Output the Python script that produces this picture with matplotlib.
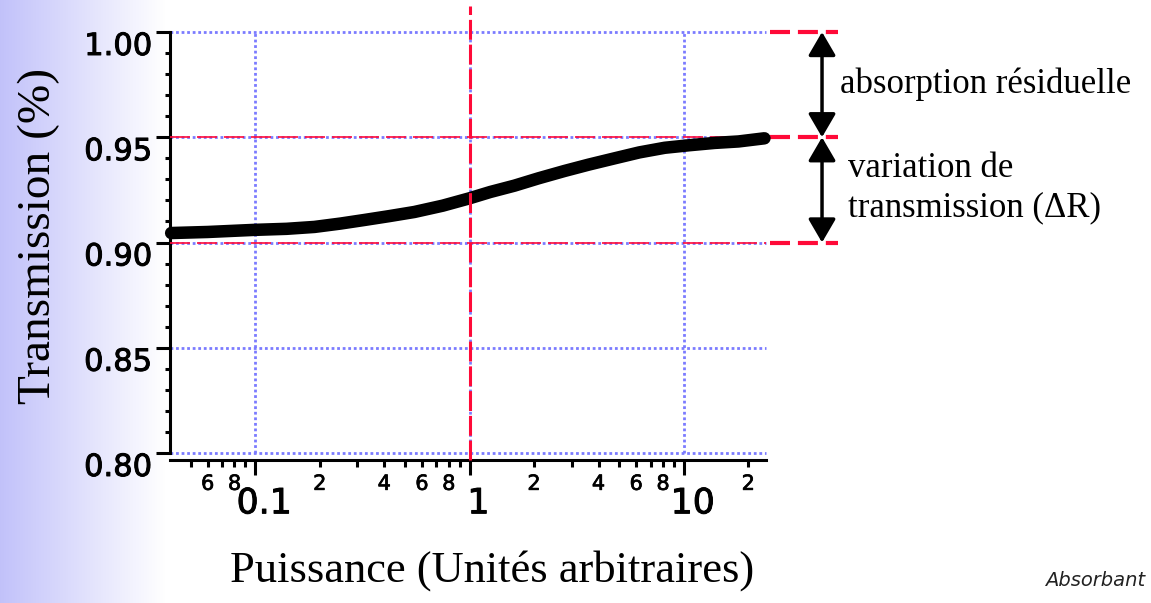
import matplotlib.pyplot as plt
import matplotlib.transforms as mtransforms
import matplotlib.patheffects as pe
from matplotlib.ticker import FixedLocator, MultipleLocator, FuncFormatter
import numpy as np

# Transmission d'un absorbant saturable en fonction de la puissance incidente
puissance = [0.0405, 0.06, 0.099, 0.14, 0.189, 0.25, 0.323, 0.42, 0.553, 0.75, 1.0,
             1.25, 1.62, 2.1, 2.78, 3.6, 4.76, 6.2, 8.15, 10.6, 13.9, 18.0, 23.8]
transmission = [0.9045, 0.905, 0.906, 0.9065, 0.9074, 0.909, 0.9107, 0.9125, 0.9145, 0.9175, 0.921,
                0.924, 0.927, 0.9305, 0.934, 0.937, 0.940, 0.9428, 0.945, 0.9462, 0.9473, 0.948, 0.9495]

niveaux = [1.00, 0.95, 0.90]          # T max, T saturee, T non saturee
y_ticks = [0.80, 0.85, 0.90, 0.95, 1.00]
x_major = [0.1, 1, 10]
x_lim = (0.04, 24.2)

ROUGE = '#ff0a38'
BLEU = '#7b7bff'

fig = plt.figure(figsize=(11.51, 6.03), dpi=100)

# bandeau degrade a gauche
bg = fig.add_axes([0, 0, 1, 1], zorder=-10)
bg.axis('off')
w = 1151
t = np.clip(np.arange(w) / 165.0, 0, 1)[None, :, None]
c0 = np.array([0.76, 0.76, 0.98])
grad = c0 * (1 - t) + np.ones(3) * t
bg.imshow(grad, aspect='auto', extent=[0, 1, 0, 1])
bg.set_xlim(0, 1)
bg.set_ylim(0, 1)

ax = fig.add_axes([170 / 1151, 1 - 453 / 603, 596 / 1151, 421 / 603])
ax.set_facecolor('none')
ax.set_xscale('log')
ax.set_xlim(*x_lim)
ax.set_ylim(0.80, 1.00)

for s in ['top', 'right']:
    ax.spines[s].set_visible(False)
ax.spines['left'].set_linewidth(2.2)
ax.spines['bottom'].set_linewidth(2.2)
ax.spines['bottom'].set_position(('outward', 5))

# ticks
ax.yaxis.set_major_locator(FixedLocator(y_ticks))
ax.yaxis.set_minor_locator(MultipleLocator(0.01))
ax.yaxis.set_major_formatter(FuncFormatter(lambda v, p: f'{v:.2f}'))
ax.xaxis.set_major_locator(FixedLocator(x_major))
ax.xaxis.set_major_formatter(FuncFormatter(lambda v, p: f'{v:g}'))
minor = [m * 10.0 ** e for e in (-2, -1, 0, 1) for m in range(2, 10)]
minor = [v for v in minor if 0.045 < v < x_lim[1]]
ax.xaxis.set_minor_locator(FixedLocator(minor))

def minor_label(v, pos):
    m = int(round(v / 10 ** np.floor(np.log10(v) + 1e-9)))
    return str(m) if m in (2, 4, 6, 8) else ''

ax.xaxis.set_minor_formatter(FuncFormatter(minor_label))

ax.tick_params(axis='y', which='major', length=10, width=2.2, labelsize=22, pad=3)
ax.tick_params(axis='y', which='minor', length=3.5, width=2.2)
ax.tick_params(axis='x', which='major', length=11, width=2.2, labelsize=25, pad=8)
ax.tick_params(axis='x', which='minor', length=5, width=2.2, labelsize=15, pad=5)

gras = [pe.withStroke(linewidth=0.7, foreground='black')]
for lab in ax.get_yticklabels():
    lab.set_verticalalignment('top')
    lab.set_path_effects(gras)
shift = mtransforms.ScaledTranslation(9 / 100, 0, fig.dpi_scale_trans)
for lab in ax.get_xticklabels():
    lab.set_transform(lab.get_transform() + shift)
    lab.set_path_effects(gras)
for lab in ax.get_xticklabels(minor=True):
    lab.set_path_effects([pe.withStroke(linewidth=0.5, foreground='black')])

# grille pointillee bleue
ax.grid(which='major', color=BLEU, linestyle=(0, (1, 1)), linewidth=2)
for gl in ax.get_xgridlines() + ax.get_ygridlines():
    gl.set_clip_on(False)

# courbe
ax.plot(puissance, transmission, color='black', lw=9, solid_capstyle='round',
        solid_joinstyle='round', zorder=5, clip_on=False)

# reperes rouges
ax.axvline(1, ymin=-0.017, ymax=1.062, color=ROUGE, lw=2.2, dashes=(6.5, 1.6),
           clip_on=False, zorder=6)
for y in niveaux[1:]:
    ax.axhline(y, color=ROUGE, lw=1.2, dashes=(12, 4.2), zorder=3)

blend = mtransforms.blended_transform_factory(ax.transAxes, ax.transData)
for y in niveaux:
    ax.plot([1.007, 1.121], [y, y], transform=blend, color=ROUGE, lw=3,
            dashes=(4.8, 1.9), clip_on=False)

fleche = dict(arrowstyle='<|-|>,head_length=0.6,head_width=0.35', color='black',
              lw=2.5, mutation_scale=24, shrinkA=0, shrinkB=0)
for y0, y1 in zip(niveaux[:-1], niveaux[1:]):
    ax.annotate('', xy=(1.094, y0), xytext=(1.094, y1), xycoords=blend,
                textcoords=blend, arrowprops=fleche, annotation_clip=False)

serif = 'Liberation Serif'
ax.text(1.124, (niveaux[0] + niveaux[1]) / 2, 'absorption résiduelle', transform=blend,
        fontsize=25, family=serif, va='center', ha='left')
ax.text(1.137, (niveaux[1] + niveaux[2]) / 2 + 0.001, 'variation de\ntransmission (ΔR)',
        transform=blend, fontsize=25, family=serif, va='center', ha='left', linespacing=1.25)

ax.set_ylabel('Transmission (%)', fontsize=34, family=serif)
ax.yaxis.set_label_coords(-0.185, 0.515)
ax.set_xlabel('Puissance (Unités arbitraires)', fontsize=32, family=serif)
ax.xaxis.set_label_coords(0.54, -0.23)

fig.text(1045 / 1151, 1 - 580 / 603, 'Absorbant', fontsize=14, style='italic',
         va='center', ha='left', color='#222222')
fig.text(1100 / 1151, -0.012, 'T. C', fontsize=12, family=serif, va='center', ha='left',
         color='#222222')

fig.savefig('out.png', dpi=100)
